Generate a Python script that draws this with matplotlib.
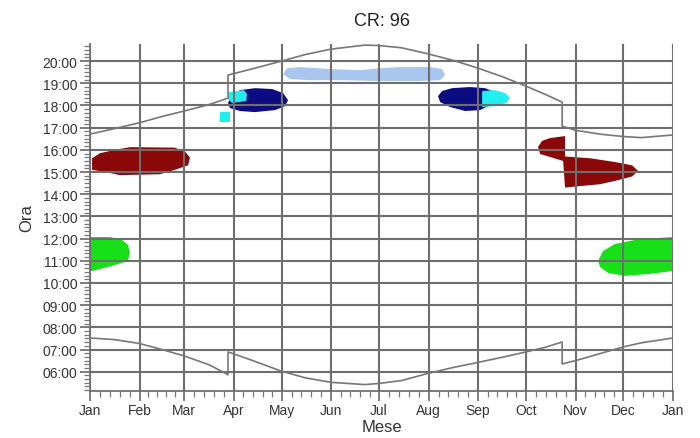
import numpy as np
import matplotlib
matplotlib.use("Agg")
import matplotlib.pyplot as plt
from matplotlib.ticker import FixedLocator, FuncFormatter, MultipleLocator

plt.rcParams['font.family'] = ['Liberation Sans', 'DejaVu Sans']

# asse x in giorni dall'inizio dell'anno
month_labels = ['Jan', 'Feb', 'Mar', 'Apr', 'May', 'Jun', 'Jul', 'Aug', 'Sep', 'Oct', 'Nov', 'Dec', 'Jan']
month_start = [0, 31, 59, 90, 120, 151, 181, 212, 243, 273, 304, 334, 365]

# tramonto (ore decimali), con salti dell'ora legale
sunset_day = [0, 15, 31, 45, 59, 75, 86.4, 86.4, 100, 120, 135, 151, 172, 181, 195, 212,
              228, 243, 258, 273, 285, 295.6, 295.6, 304, 320, 334, 345, 365]
sunset_hour = [16.71, 16.95, 17.22, 17.5, 17.75, 18.05, 18.33, 19.37, 19.62, 20.0, 20.3, 20.54,
               20.72, 20.70, 20.6, 20.32, 20.02, 19.68, 19.3, 18.87, 18.5, 18.15, 17.07, 16.88,
               16.7, 16.6, 16.55, 16.67]

# alba
sunrise_day = sunset_day
sunrise_hour = [7.52, 7.45, 7.27, 7.0, 6.71, 6.3, 5.86, 6.89, 6.55, 6.02, 5.72, 5.52, 5.42,
                5.47, 5.6, 5.93, 6.2, 6.42, 6.65, 6.89, 7.1, 7.34, 6.35, 6.5, 6.83, 7.12, 7.3, 7.52]

# zone di abbagliamento (contorni giorno / ora)
red1_day = [1.3, 6.3, 15.7, 25, 53, 59.5, 62.6, 61.4, 53.2, 43.8, 18.8, 9.4, 1.3]
red1_hour = [15.62, 15.85, 16.0, 16.12, 16.1, 15.92, 15.65, 15.3, 15.1, 14.9, 14.86, 15.0, 15.1]

red2_day = [280.5, 283, 288, 297.4, 297.4, 313.1, 328.7, 339.4, 343.1, 339.4, 328.7, 319.3,
            297.4, 296.2, 288, 281.8]
red2_hour = [16.13, 16.40, 16.53, 16.62, 15.70, 15.62, 15.45, 15.30, 15.05, 14.80, 14.60, 14.45,
             14.30, 15.50, 15.68, 15.81]

navy1_day = [86.4, 88.9, 93.9, 103.3, 114, 120.9, 124, 122.1, 115.8, 103.3, 93.9, 87.7]
navy1_hour = [18.11, 18.47, 18.69, 18.78, 18.74, 18.56, 18.24, 17.97, 17.79, 17.70, 17.75, 17.88]

navy2_day = [217.9, 220.4, 226.7, 237.9, 247.3, 253.6, 254.9, 250.5, 244.2, 234.8, 225.4, 219.2]
navy2_hour = [18.42, 18.65, 18.78, 18.83, 18.78, 18.60, 18.29, 18.02, 17.79, 17.75, 17.93, 18.15]

cyan1_day = [87, 96.4, 98.3, 97.7, 88.9, 86.4]
cyan1_hour = [18.60, 18.69, 18.51, 18.20, 18.11, 18.29]

cyan2_day = [81.4, 87.7, 87.7, 81.4]
cyan2_hour = [17.70, 17.70, 17.25, 17.25]

cyan3_day = [245.5, 253.6, 259.9, 263, 260.5, 253.6, 245.5]
cyan3_hour = [18.65, 18.69, 18.56, 18.33, 18.11, 17.97, 17.93]

lblue_day = [120.9, 123.4, 131.5, 150.3, 169.1, 181.6, 194.1, 212.9, 220.4, 222.3, 219.2,
             206.6, 181.6, 156.5, 137.8, 125.2]
lblue_hour = [19.41, 19.68, 19.73, 19.64, 19.59, 19.68, 19.73, 19.73, 19.64, 19.37, 19.14,
              19.10, 19.10, 19.14, 19.14, 19.19]

green1_day = [0, 12.5, 20, 23.8, 25, 23.8, 15.7, 6.3, 1.3, 0]
green1_hour = [12.07, 12.07, 11.94, 11.71, 11.40, 10.99, 10.81, 10.63, 10.54, 10.54]

green2_day = [318.1, 321.2, 328.7, 341.3, 356.9, 365, 365, 350.7, 335, 324.4, 319.3]
green2_hour = [10.99, 11.44, 11.76, 11.94, 12.03, 12.07, 10.54, 10.41, 10.32, 10.45, 10.72]

fig = plt.figure(figsize=(7, 4.39), dpi=100)
ax = fig.add_axes([90 / 700, 1 - 392 / 439, 583 / 700, 347 / 439])

ax.fill(lblue_day, lblue_hour, color='#a9c6ee', lw=0, zorder=1)
ax.fill(red1_day, red1_hour, color='#8a0808', lw=0, zorder=1)
ax.fill(red2_day, red2_hour, color='#8a0808', lw=0, zorder=1)
ax.fill(navy1_day, navy1_hour, color='#0c0c82', lw=0, zorder=1)
ax.fill(navy2_day, navy2_hour, color='#0c0c82', lw=0, zorder=1)
ax.fill(cyan1_day, cyan1_hour, color='#22eef0', lw=0, zorder=1.2)
ax.fill(cyan2_day, cyan2_hour, color='#22eef0', lw=0, zorder=1.2)
ax.fill(cyan3_day, cyan3_hour, color='#22eef0', lw=0, zorder=1.2)
ax.fill(green1_day, green1_hour, color='#18e018', lw=0, zorder=1)
ax.fill(green2_day, green2_hour, color='#18e018', lw=0, zorder=1)

ax.plot(sunset_day, sunset_hour, color='#777777', lw=1.2, zorder=3)
ax.plot(sunrise_day, sunrise_hour, color='#777777', lw=1.2, zorder=3)

ax.set_xlim(0, 365)
ax.set_ylim(5.13, 20.77)

# tacche
ax.xaxis.set_major_locator(FixedLocator(month_start))
ax.set_xticklabels(month_labels)
minor_x = []
for a, b in zip(month_start[:-1], month_start[1:]):
    minor_x += [a + k * (b - a) / 5 for k in range(1, 5)]
ax.xaxis.set_minor_locator(FixedLocator(minor_x))
ax.yaxis.set_major_locator(FixedLocator(range(6, 21)))
ax.yaxis.set_major_formatter(FuncFormatter(lambda v, p: '%02d:00' % int(round(v))))
ax.yaxis.set_minor_locator(MultipleLocator(1 / 6))

ax.tick_params(which='major', length=7, width=1.2, color='#666666', labelsize=10,
               labelcolor='#333333', pad=2)
ax.tick_params(which='minor', length=4, width=0.9, color='#777777')

ax.grid(True, which='major', color='#6e6e6e', lw=1.5)
ax.set_axisbelow(False)

for s in ['top', 'right']:
    ax.spines[s].set_visible(False)
for s in ['left', 'bottom']:
    ax.spines[s].set_color('#666666')
    ax.spines[s].set_linewidth(1.2)

ax.set_title('CR: 96', fontsize=13, color='#222222', pad=14)
ax.set_xlabel('Mese', fontsize=12, color='#333333', labelpad=1)
ax.set_ylabel('Ora', fontsize=12, color='#333333', labelpad=6)

fig.savefig('out.png', dpi=100)
